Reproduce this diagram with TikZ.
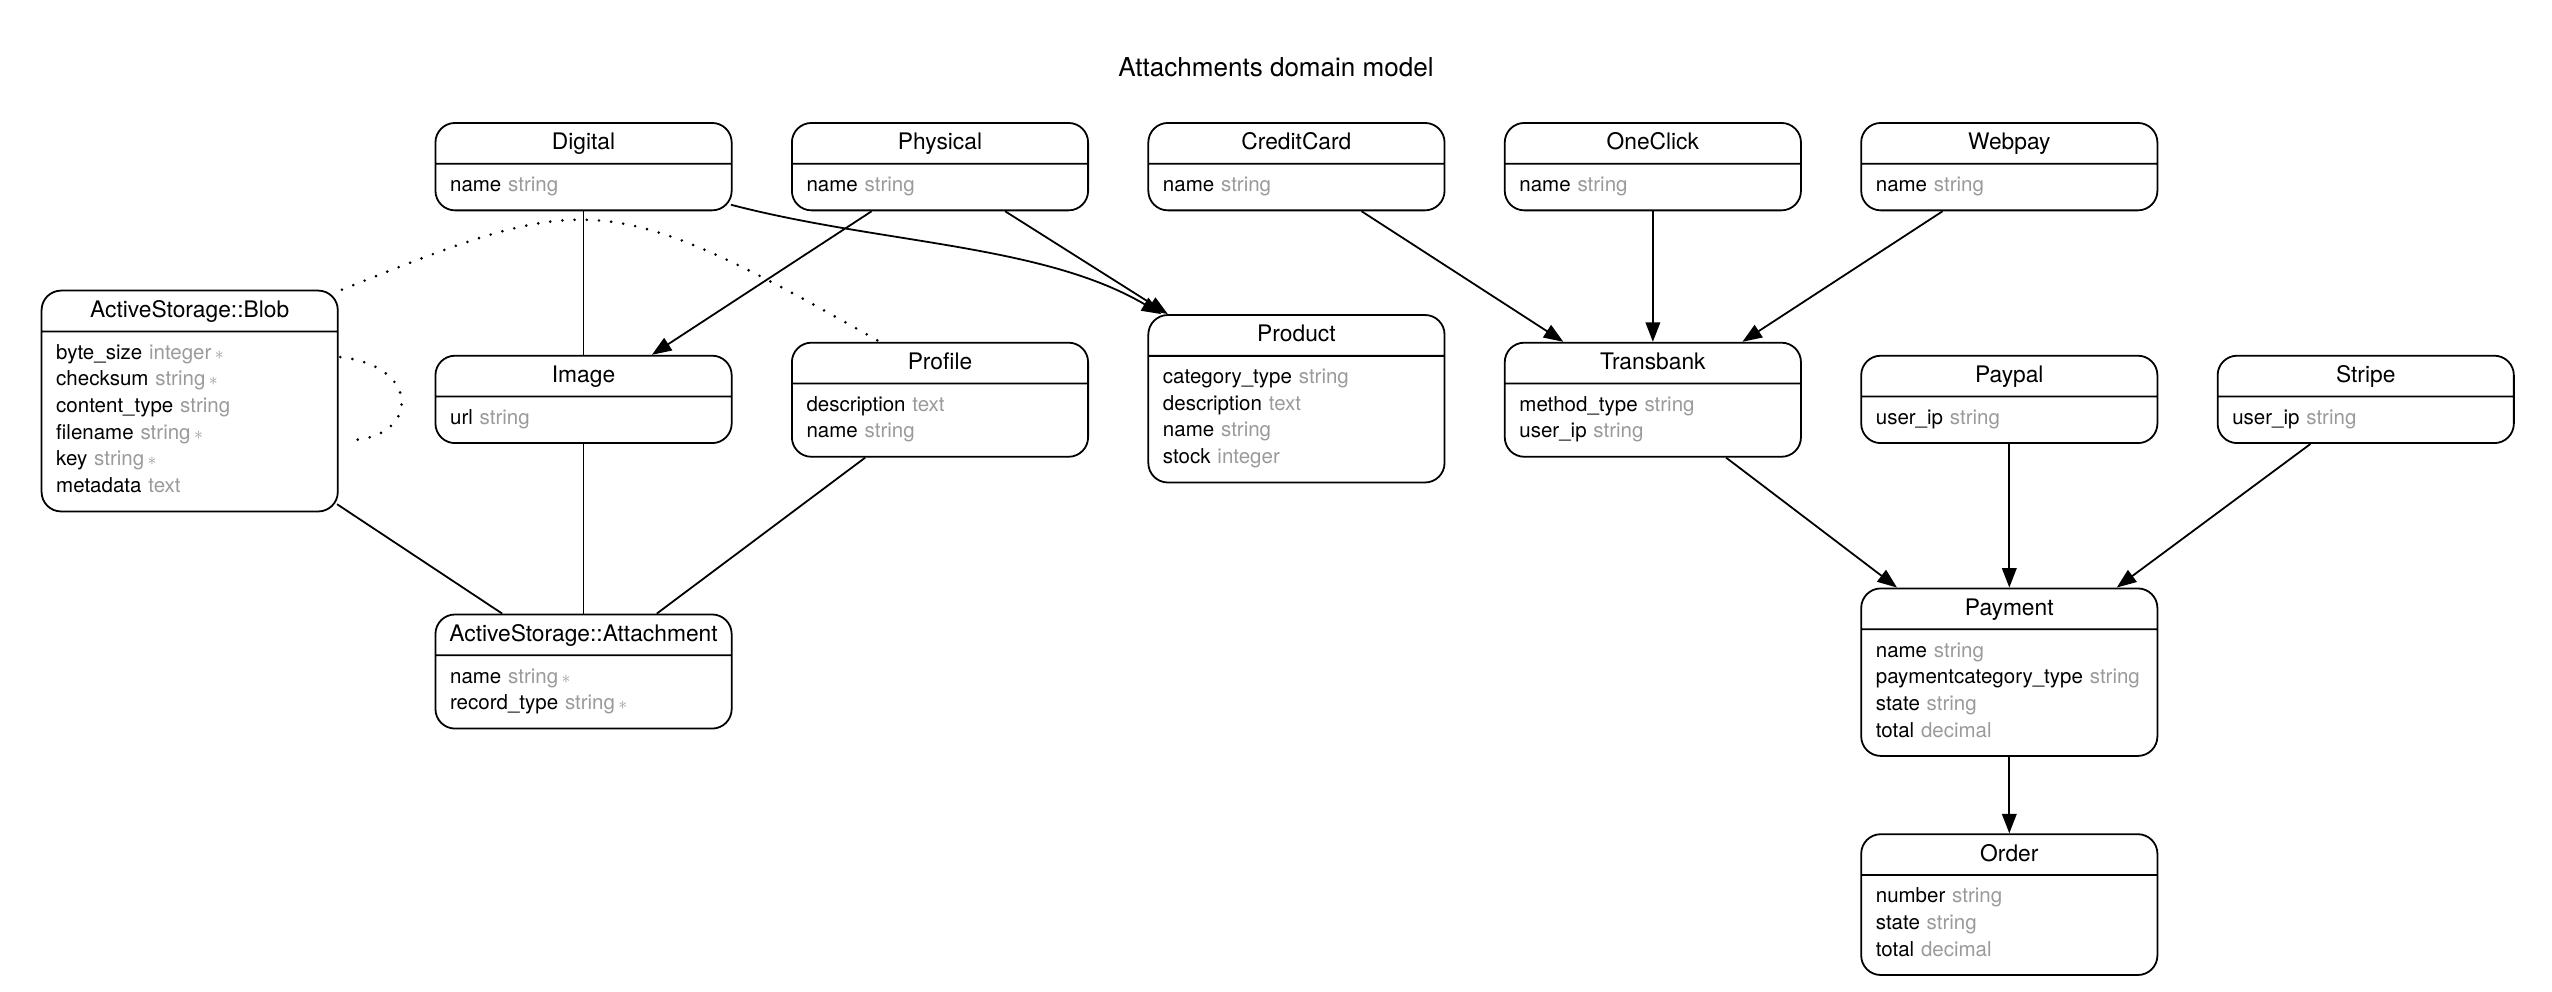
\documentclass[tikz,border=0pt]{standalone}
\usepackage{fontspec}
\setmainfont{TeX Gyre Heros}
\usetikzlibrary{shapes.multipart,arrows.meta}
\definecolor{typegray}{HTML}{9A9A9A}
\newcommand{\ty}[1]{{\color{typegray}#1}}
\newcommand{\req}{\,{\color{typegray}\fontsize{11}{11}\selectfont$\ast$}}
\newcommand{\ttl}[1]{\noindent\makebox[\linewidth]{\fontsize{14}{16}\selectfont\rule[-8pt]{0pt}{24pt}#1}}
\newcommand{\topstrut}{\rule{0pt}{16.5pt}}
\newcommand{\botstrut}{\rule[-11pt]{0pt}{11pt}}

\begin{document}
\begin{tikzpicture}[x=1pt,y=-1pt,
    entity/.style={rectangle split,rectangle split parts=2,draw,line width=1.1pt,rounded corners=12pt,
      text width=164pt,inner xsep=9pt,inner ysep=0pt,anchor=north west,font=\fontsize{12.6}{16.4}\selectfont},
    assoc/.style={line width=1.1pt,-{Triangle[length=12pt,width=9pt]}},
    link/.style={line width=1.1pt},
    poly/.style={line width=1.8pt,line cap=round,dash pattern=on 0pt off 7.5pt}]
  \useasboundingbox (0,0) rectangle (1568,609.5);
  \node (title) at (784,41) {\fontsize{16}{18}\selectfont Attachments domain model};
  % top row
  \node (digital) [entity] at (267,75) {\ttl{Digital}\nodepart{two}\topstrut name \ty{string}\botstrut};
  \node (physical) [entity] at (486,75) {\ttl{Physical}\nodepart{two}\topstrut name \ty{string}\botstrut};
  \node (creditcard) [entity] at (705,75) {\ttl{CreditCard}\nodepart{two}\topstrut name \ty{string}\botstrut};
  \node (oneclick) [entity] at (924,75) {\ttl{OneClick}\nodepart{two}\topstrut name \ty{string}\botstrut};
  \node (webpay) [entity] at (1143,75) {\ttl{Webpay}\nodepart{two}\topstrut name \ty{string}\botstrut};
  % middle row
  \node (blob) [entity] at (25,178) {\ttl{ActiveStorage::Blob}\nodepart{two}\topstrut byte\_size \ty{integer}\req\\
    checksum \ty{string}\req\\ content\_type \ty{string}\\ filename \ty{string}\req\\ key \ty{string}\req\\
    metadata \ty{text}\botstrut};
  \node (image) [entity] at (267,218) {\ttl{Image}\nodepart{two}\topstrut url \ty{string}\botstrut};
  \node (profile) [entity] at (486,210) {\ttl{Profile}\nodepart{two}\topstrut description \ty{text}\\ name \ty{string}\botstrut};
  \node (product) [entity] at (705,193) {\ttl{Product}\nodepart{two}\topstrut category\_type \ty{string}\\
    description \ty{text}\\ name \ty{string}\\ stock \ty{integer}\botstrut};
  \node (transbank) [entity] at (924,210) {\ttl{Transbank}\nodepart{two}\topstrut method\_type \ty{string}\\ user\_ip \ty{string}\botstrut};
  \node (paypal) [entity] at (1143,218) {\ttl{Paypal}\nodepart{two}\topstrut user\_ip \ty{string}\botstrut};
  \node (stripe) [entity] at (1362,218) {\ttl{Stripe}\nodepart{two}\topstrut user\_ip \ty{string}\botstrut};
  % bottom
  \node (attachment) [entity] at (267,377) {\ttl{ActiveStorage::Attachment}\nodepart{two}\topstrut name \ty{string}\req\\
    record\_type \ty{string}\req\botstrut};
  \node (payment) [entity] at (1143,361) {\ttl{Payment}\nodepart{two}\topstrut name \ty{string}\\
    paymentcategory\_type \ty{string}\\ state \ty{string}\\ total \ty{decimal}\botstrut};
  \node (order) [entity] at (1143,512) {\ttl{Order}\nodepart{two}\topstrut number \ty{string}\\
    state \ty{string}\\ total \ty{decimal}\botstrut};
  % relations
  \draw[link] (digital.south) -- (image.north);
  \draw[assoc] ([xshift=-1pt,yshift=4pt]digital.south east) .. controls +(92,24) and +(-73,-43) .. ([xshift=-83pt]product.north);
  \draw[assoc] ([xshift=-42pt]physical.south) -- ([xshift=42pt]image.north);
  \draw[assoc] ([xshift=40pt]physical.south) -- ([xshift=-79pt]product.north);
  \draw[assoc] ([xshift=40pt]creditcard.south) -- ([xshift=-55pt]transbank.north);
  \draw[assoc] (oneclick.south) -- (transbank.north);
  \draw[assoc] ([xshift=-41pt]webpay.south) -- ([xshift=55pt]transbank.north);
  \draw[assoc] ([xshift=45pt]transbank.south) -- ([xshift=-69pt]payment.north);
  \draw[assoc] (paypal.south) -- (payment.north);
  \draw[assoc] ([xshift=-34pt]stripe.south) -- ([xshift=66pt]payment.north);
  \draw[assoc] (payment.south) -- (order.north);
  \draw[link] ([xshift=-1pt,yshift=5pt]blob.south east) -- ([xshift=-50pt]attachment.north);
  \draw[link] (image.south) -- (attachment.north);
  \draw[link] ([xshift=-46pt]profile.south) -- ([xshift=45pt]attachment.north);
  % polymorphic
  \draw[poly] ([xshift=2pt]blob.north east) .. controls (360,118) and (372,114) .. ([xshift=-37pt]profile.north);
  \draw[poly] ([xshift=1pt,yshift=27pt]blob.east) .. controls +(52,6) and +(42,0) .. ([xshift=6pt,yshift=-24pt]blob.east);
\end{tikzpicture}
\end{document}
